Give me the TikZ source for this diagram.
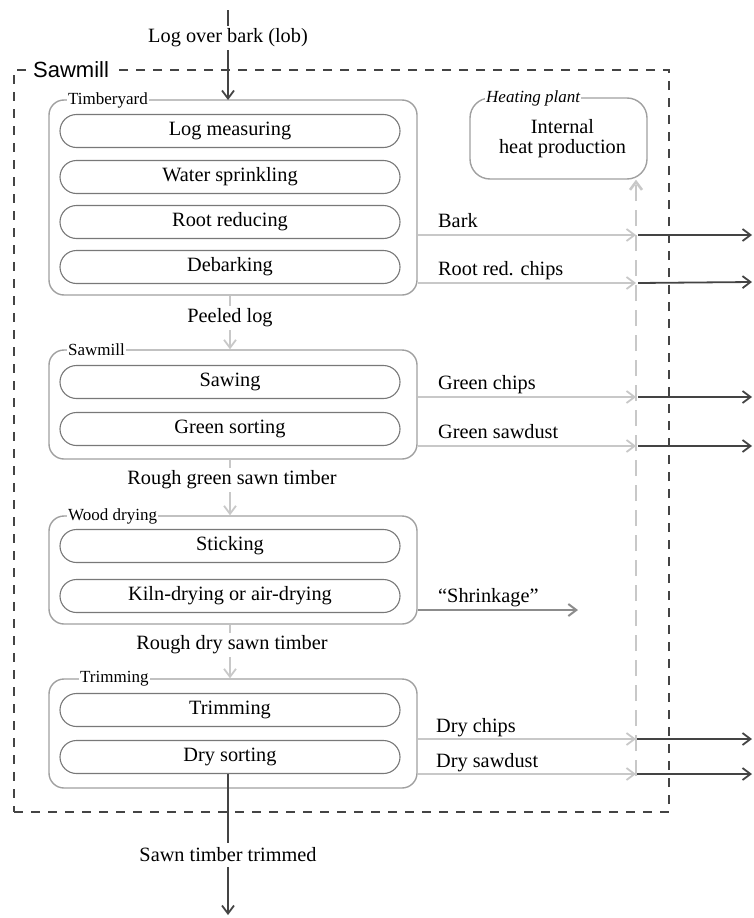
\documentclass[tikz,border=0pt]{standalone}
\usepackage{fontspec}
\setmainfont{Liberation Serif}
\newfontfamily\arialfont{Liberation Sans}
\usetikzlibrary{arrows.meta,shapes.misc}
\definecolor{lightg}{RGB}{200,200,200}
\definecolor{groupg}{RGB}{160,160,160}
\definecolor{boxg}{RGB}{120,120,120}
\definecolor{darkg}{RGB}{68,68,68}
\definecolor{midg}{RGB}{140,140,140}
\begin{document}
\begin{tikzpicture}[x=1pt,y=-1pt,
  every node/.style={font=\fontsize{20.3}{22}\selectfont, inner sep=0pt},
  group/.style={draw=groupg, line width=1.4pt, rounded corners=15pt, rectangle, minimum width=368pt},
  proc/.style={draw=boxg, line width=1.1pt, rounded rectangle, minimum width=340pt, minimum height=33pt},
  grplabel/.style={font=\fontsize{17}{19}\selectfont, fill=white, inner xsep=1pt, inner ysep=1pt, anchor=west},
  tipb/.style={-{Straight Barb[length=8pt,width=12pt]}},
  flowg/.style={draw=lightg, line width=1.8pt, tipb},
  flowd/.style={draw=darkg, line width=1.8pt, tipb},
  flowlabel/.style={fill=white, inner xsep=2pt, inner ysep=3pt},
  sidelabel/.style={anchor=base west},
]
\useasboundingbox (0,0) rectangle (753,918);

% outer dashed boundary
\node[draw=darkg, line width=1.6pt, dash pattern=on 9pt off 8pt, rectangle,
      minimum width=655pt, minimum height=742pt] (outer) at (341.5,441) {};
\node[anchor=west, fill=white, inner xsep=2pt, inner ysep=2pt, font=\arialfont\fontsize{22}{24}\selectfont] (outerlbl) at (31,70) {Sawmill};

% groups
\node[group, minimum height=195pt] (ty) at (233,197.5) {};
\node[group, minimum height=109pt] (sm) at (233,404.5) {};
\node[group, minimum height=108pt] (wd) at (233,570) {};
\node[group, minimum height=109pt] (tr) at (233,733.5) {};
\node[grplabel] (tyl) at (67,100) {Timberyard};
\node[grplabel] (sml) at (67,350) {Sawmill};
\node[grplabel] (wdl) at (67,516) {Wood drying};
\node[grplabel] (trl) at (79,679) {Trimming};

% processes
\node[proc] (lm) at (230,131) {Log measuring};
\node[proc] (ws) at (230,177) {Water sprinkling};
\node[proc] (rr) at (230,222) {Root reducing};
\node[proc] (db) at (230,267) {Debarking};
\node[proc] (sw) at (230,382) {Sawing};
\node[proc] (gs) at (230,429) {Green sorting};
\node[proc] (st) at (230,546) {Sticking};
\node[proc] (kd) at (230,596) {Kiln-drying or air-drying};
\node[proc] (tm) at (230,710) {Trimming};
\node[proc] (ds) at (230,757) {Dry sorting};

% heating plant
\node[draw=groupg, line width=1.4pt, rounded corners=20pt, rectangle,
      minimum width=177pt, minimum height=81pt, align=center,
      font=\fontsize{20.3}{19.5}\selectfont] (hp) at (558.5,138.5) {\hspace*{8pt}Internal\\\hspace*{8pt}heat production};
\node[grplabel, font=\itshape\fontsize{17}{19}\selectfont] (hpl) at (485,98) {Heating plant};

% main input
\coordinate (in) at (228,10);
\coordinate (tyin) at (228,100);
\draw[flowd] (in) -- (tyin);
\node[flowlabel] (lob) at (228,38) {Log over bark (lob)};

% main flow between groups
\coordinate (f1) at (230,0);
\draw[flowg] (ty.south -| f1) -- (sm.north -| f1);
\node[flowlabel] (pl) at (230,318) {Peeled log};
\draw[flowg] (sm.south -| f1) -- (wd.north -| f1);
\node[flowlabel] (rgst) at (232,480) {Rough green sawn timber};
\draw[flowg] (wd.south -| f1) -- (tr.north -| f1);
\node[flowlabel] (rdst) at (232,645) {Rough dry sawn timber};

% output
\coordinate (outb) at (228,915);
\draw[flowd] (ds.south -| outb) -- (outb);
\node[flowlabel, inner ysep=5pt] (stt) at (228,855) {Sawn timber trimmed};

% heating supply line
\coordinate (hb) at (636,776);
\draw[draw=lightg, line width=2.6pt, dash pattern=on 16pt off 9pt, -{Straight Barb[length=8pt,width=12pt]}] (hb) -- (hb |- hp.south);

% side streams
\coordinate (bk) at (636,235);  \coordinate (bko) at (752,235);
\coordinate (rc) at (636,283);  \coordinate (rco) at (752,282);
\coordinate (gc) at (636,397);  \coordinate (gco) at (752,397);
\coordinate (gd) at (636,446);  \coordinate (gdo) at (752,446);
\coordinate (dc) at (636,739);  \coordinate (dco) at (752,739);
\coordinate (dd) at (636,774);  \coordinate (ddo) at (752,774);
\coordinate (sk) at (578,610);

\draw[flowg] (ty.east |- bk) -- (bk);
\draw[flowg] (ty.east |- rc) -- (rc);
\draw[flowg] (sm.east |- gc) -- (gc);
\draw[flowg] (sm.east |- gd) -- (gd);
\draw[flowg] (tr.east |- dc) -- (dc);
\draw[flowg] (tr.east |- dd) -- (dd);
\draw[draw=midg, line width=2pt, tipb] (wd.east |- sk) -- (sk);

\draw[flowd] ([xshift=2pt]bk) -- (bko);
\draw[flowd] ([xshift=2pt]rc) -- (rco);
\draw[flowd] ([xshift=2pt]gc) -- (gco);
\draw[flowd] ([xshift=2pt]gd) -- (gdo);
\draw[flowd] ([xshift=1pt]dc) -- (dco);
\draw[flowd] ([xshift=1pt]dd) -- (ddo);

\node[sidelabel] (bkl) at (438,227) {Bark};
\node[sidelabel] (rcl) at (438,275) {Root red. chips};
\node[sidelabel] (gcl) at (438,389) {Green chips};
\node[sidelabel] (gdl) at (438,438) {Green sawdust};
\node[sidelabel] (skl) at (438,602) {“Shrinkage”};
\node[sidelabel] (dcl) at (436,732) {Dry chips};
\node[sidelabel] (ddl) at (436,767) {Dry sawdust};
\end{tikzpicture}
\end{document}
